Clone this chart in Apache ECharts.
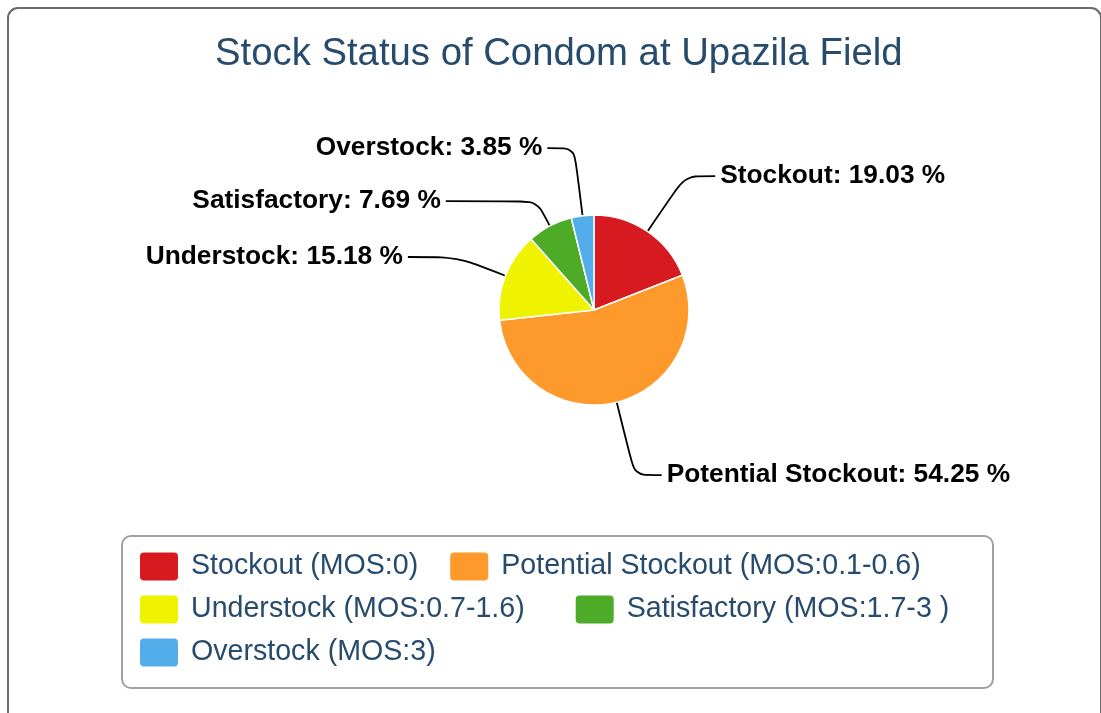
<!DOCTYPE html>
<html>
<head>
<meta charset="utf-8">
<script src="https://cdn.jsdelivr.net/npm/echarts@6/dist/echarts.min.js"></script>
<style>
html,body{margin:0;padding:0;background:#fff;}
#chart{width:1101px;height:713px;}
</style>
</head>
<body>
<div id="chart"></div>
<script>
// ---- data ----
const categories = [
  'Stockout (MOS:0)',
  'Potential Stockout (MOS:0.1-0.6)',
  'Understock (MOS:0.7-1.6)',
  'Satisfactory (MOS:1.7-3 )',
  'Overstock (MOS:3)'
];
const shortNames = ['Stockout', 'Potential Stockout', 'Understock', 'Satisfactory', 'Overstock'];
const values = [19.03, 54.25, 15.18, 7.69, 3.85];
const titleText = 'Stock Status of Condom at Upazila Field';

// ---- styling ----
const colors = ['#d71a1f', '#fe9a2b', '#eff300', '#4dab27', '#53adea'];
const lineLen1 = [67, 75, 52, 28, 68];
const lineLen2 = [30, 27, 49, 91, 27];
const FONT = '"Liberation Sans", Arial, Helvetica, sans-serif';
const TEXT_BLUE = '#274b6d';

const chart = echarts.init(document.getElementById('chart'), null, {renderer: 'canvas'});

const pieData = categories.map((name, i) => ({
  name: name,
  value: values[i],
  itemStyle: {color: colors[i]},
  labelLine: {length: lineLen1[i], length2: lineLen2[i]}
}));

const legendRow = (names, top, gap) => ({
  show: true,
  data: names,
  left: 140,
  top: top,
  orient: 'horizontal',
  itemGap: gap,
  itemWidth: 38,
  itemHeight: 28,
  icon: 'path://M4,0 H34 A4,4 0 0 1 38,4 V24 A4,4 0 0 1 34,28 H4 A4,4 0 0 1 0,24 V4 A4,4 0 0 1 4,0 Z',
  itemStyle: {borderWidth: 0},
  padding: 0,
  selectedMode: false,
  textStyle: {
    color: TEXT_BLUE,
    fontSize: 28.6,
    fontFamily: FONT,
    padding: [4, 0, 0, 8]
  }
});

chart.setOption({
  animation: false,
  backgroundColor: '#ffffff',
  title: {
    text: titleText,
    left: 215,
    top: 35,
    padding: 0,
    textStyle: {
      color: TEXT_BLUE,
      fontSize: 38.3,
      fontWeight: 'normal',
      fontFamily: FONT
    }
  },
  graphic: [
    {
      type: 'rect',
      z: -10,
      shape: {x: 8, y: 8, width: 1093, height: 760, r: 10},
      style: {fill: '#ffffff', stroke: '#6b6b6b', lineWidth: 2}
    },
    {
      type: 'rect',
      z: -5,
      shape: {x: 122, y: 536, width: 871, height: 152, r: 9},
      style: {fill: '#ffffff', stroke: '#a0a0a0', lineWidth: 2}
    }
  ],
  legend: [
    legendRow([categories[0], categories[1]], 552, 32),
    legendRow([categories[2], categories[3]], 595, 51),
    legendRow([categories[4]], 638, 40)
  ],
  series: [{
    type: 'pie',
    center: [594, 310],
    radius: 95,
    startAngle: 90,
    clockwise: true,
    avoidLabelOverlap: false,
    data: pieData,
    itemStyle: {borderColor: '#ffffff', borderWidth: 1.5},
    emphasis: {disabled: true},
    label: {
      show: true,
      position: 'outside',
      color: '#000000',
      fontSize: 26.3,
      fontWeight: 'bold',
      fontFamily: FONT,
      distanceToLabelLine: 5,
      formatter: p => shortNames[p.dataIndex] + ': ' + values[p.dataIndex].toFixed(2) + ' %'
    },
    labelLine: {
      show: true,
      smooth: 0.25,
      lineStyle: {color: '#000000', width: 1.8}
    }
  }]
});
</script>
</body>
</html>
